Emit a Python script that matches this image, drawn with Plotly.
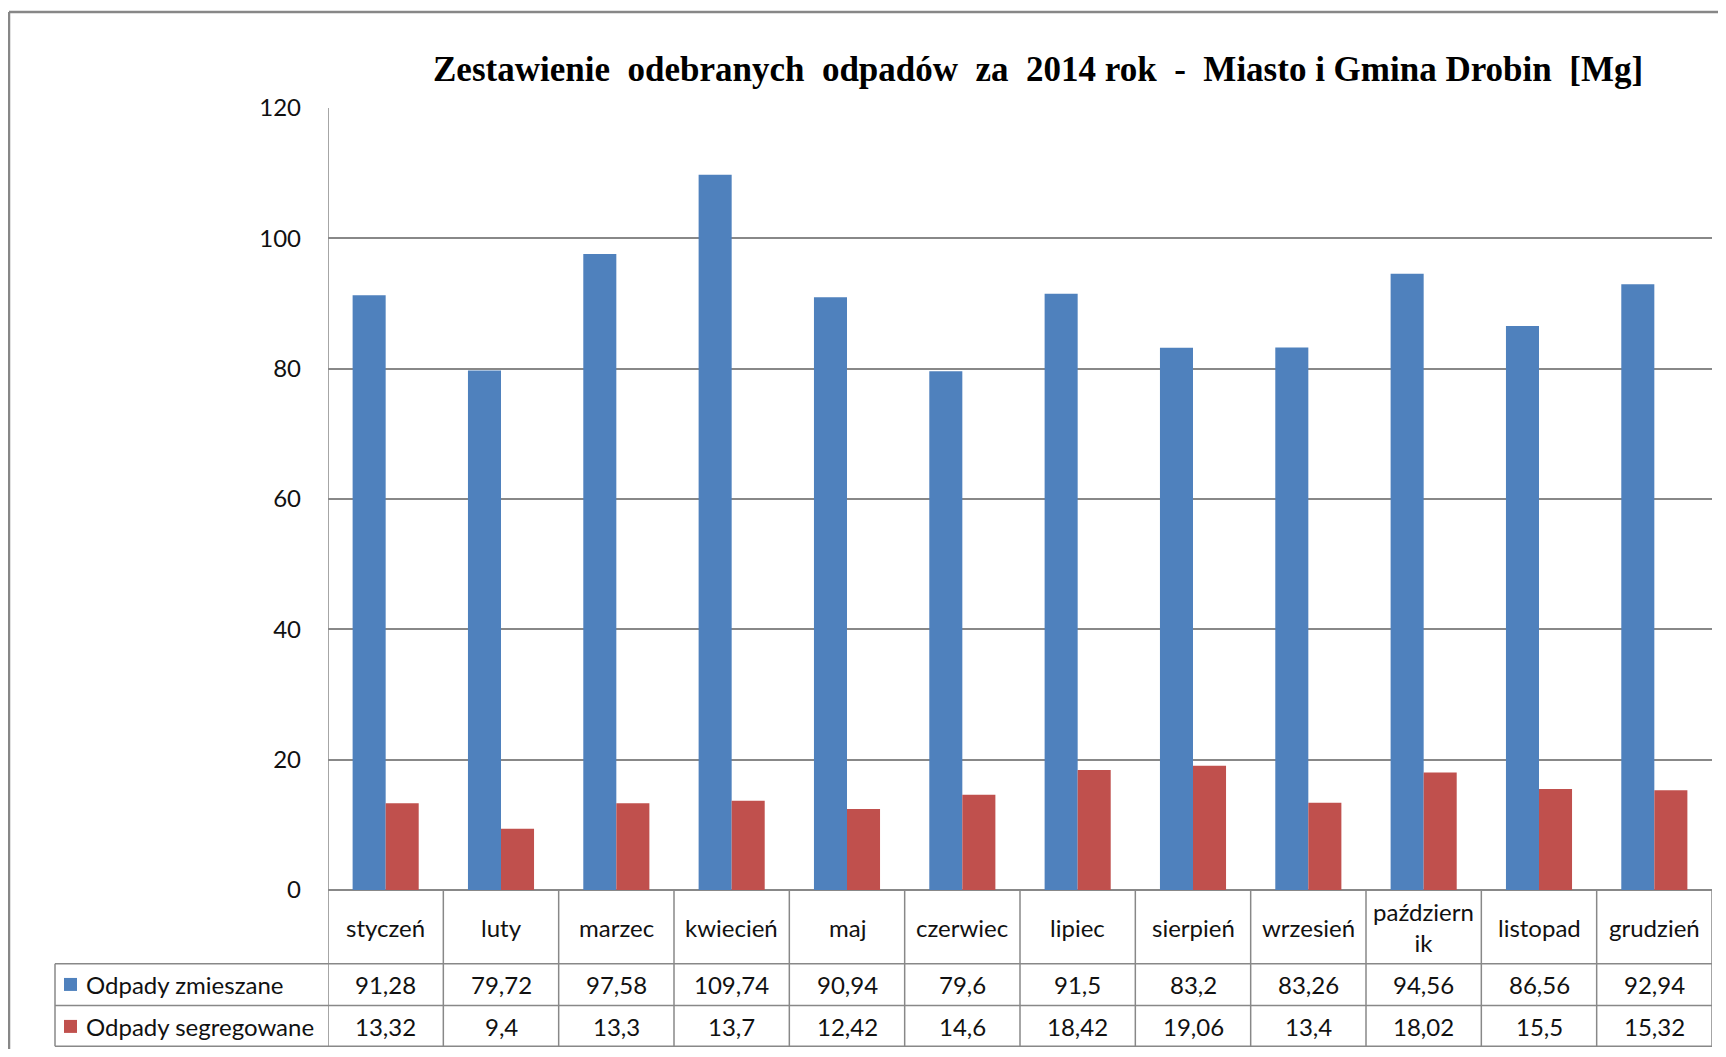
import plotly.graph_objects as go

months = ["styczeń", "luty", "marzec", "kwiecień", "maj", "czerwiec", "lipiec",
          "sierpień", "wrzesień", "październ<br>ik", "listopad", "grudzień"]
mixed = [91.28, 79.72, 97.58, 109.74, 90.94, 79.6, 91.5, 83.2, 83.26, 94.56, 86.56, 92.94]
segregated = [13.32, 9.4, 13.3, 13.7, 12.42, 14.6, 18.42, 19.06, 13.4, 18.02, 15.5, 15.32]
series_names = ["Odpady zmieszane", "Odpady segregowane"]
series_colors = ["#4F81BD", "#C0504D"]
y_ticks = [0, 20, 40, 60, 80, 100, 120]
title = "Zestawienie  odebranych  odpadów  za  2014 rok  -  Miasto i Gmina Drobin  [Mg]"

OFF = 8  # browser body margin
W_FIG, H_FIG = 1726 - OFF, 1057 - 2 * OFF
L, R, T, B = 328 - OFF, 1712 - OFF, 108 - OFF, 890.5 - OFF
PW, PH = R - L, B - T
FONT = "Lato, 'Liberation Sans', sans-serif"
GRID = "#888888"
TXT = "#111111"


def px(x):
    return (x - OFF - L) / PW


def py(y):
    return (B - (y - OFF)) / PH


n = len(months)
xs = list(range(n))

fig = go.Figure()
for name, vals, col in zip(series_names, [mixed, segregated], series_colors):
    fig.add_trace(go.Bar(x=xs, y=vals, name=name, marker=dict(color=col, line=dict(width=0))))

row_cat_bot = 964.3
row1_bot = 1006.1
row2_bot = 1046.8
leg_left = 55

shapes = []
# outer chart border
shapes.append(dict(type="line", xref="paper", yref="paper", x0=px(9), x1=px(1740), y0=py(12), y1=py(12),
                   line=dict(color="#878787", width=2.5)))
shapes.append(dict(type="line", xref="paper", yref="paper", x0=px(9), x1=px(9), y0=py(12), y1=py(1070),
                   line=dict(color="#878787", width=2.5)))
# table horizontal lines
for yy in [row_cat_bot, row1_bot, row2_bot]:
    shapes.append(dict(type="line", xref="paper", yref="paper", x0=px(leg_left), x1=1, y0=py(yy), y1=py(yy),
                       line=dict(color=GRID, width=1.5)))
# left legend column border
shapes.append(dict(type="line", xref="paper", yref="paper", x0=px(leg_left), x1=px(leg_left),
                   y0=py(row_cat_bot), y1=py(row2_bot), line=dict(color=GRID, width=1.5)))
# vertical column boundaries
for i in range(n + 1):
    top = 1 if i == 0 else 0
    shapes.append(dict(type="line", xref="x", yref="paper", x0=i - 0.5, x1=i - 0.5, y0=top, y1=py(row2_bot),
                       line=dict(color=GRID, width=1.5)))
# legend keys
for k, (yc, col) in enumerate(zip([985, 1027], series_colors)):
    shapes.append(dict(type="rect", xref="paper", yref="paper", x0=px(64), x1=px(77),
                       y0=py(yc - 6.5), y1=py(yc + 6.5), fillcolor=col, line=dict(width=0)))

annotations = []
annotations.append(dict(text="<b>" + title.replace("  ", "\u00a0 ") + "</b>", xref="paper", yref="paper",
                        x=px(1038), y=py(69), xanchor="center", yanchor="middle", showarrow=False,
                        font=dict(family="'Liberation Serif', 'Times New Roman', serif", size=35, color="#000")))
for i, m in enumerate(months):
    annotations.append(dict(text=m, xref="x", yref="paper", x=i, y=py(928), xanchor="center", yanchor="middle",
                            showarrow=False, font=dict(family=FONT, size=24, color=TXT)))
for vals, yc in zip([mixed, segregated], [985, 1027]):
    for i, v in enumerate(vals):
        annotations.append(dict(text=str(v).replace(".", ","), xref="x", yref="paper", x=i, y=py(yc),
                                xanchor="center", yanchor="middle", showarrow=False,
                                font=dict(family=FONT, size=24, color=TXT)))
for name, yc in zip(series_names, [985, 1027]):
    annotations.append(dict(text=name, xref="paper", yref="paper", x=px(84), y=py(yc), xanchor="left",
                            yanchor="middle", showarrow=False, font=dict(family=FONT, size=24, color=TXT)))

fig.update_layout(
    width=W_FIG, height=H_FIG, autosize=False,
    margin=dict(l=L, r=W_FIG - R, t=T, b=H_FIG - B, pad=0),
    paper_bgcolor="white", plot_bgcolor="white",
    barmode="group", bargap=0.427, bargroupgap=0,
    showlegend=False,
    shapes=shapes, annotations=annotations,
)
fig.update_xaxes(range=[-0.5, n - 0.5], showticklabels=False, showgrid=False, zeroline=False,
                 showline=False, ticks="")
fig.update_yaxes(range=[0, 120], tickvals=y_ticks, showgrid=True, gridcolor=GRID, gridwidth=1.5,
                 zeroline=True, zerolinecolor=GRID, zerolinewidth=1.5, showline=False,
                 ticks="", ticklabelstandoff=26,
                 tickfont=dict(family=FONT, size=24, color=TXT))

fig.write_html("out.html")
